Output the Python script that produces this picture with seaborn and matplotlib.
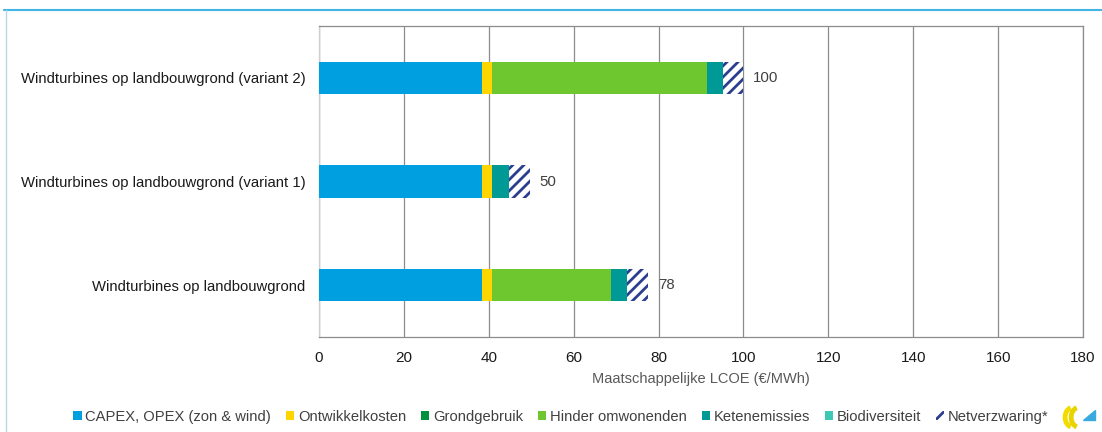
import numpy as np
import pandas as pd
import seaborn as sns
import matplotlib
matplotlib.use('Agg')
from matplotlib import pyplot as plt
from matplotlib.patches import Patch, Polygon, Arc
from matplotlib.lines import Line2D

# data (EUR/MWh)
categorieen = ['Windturbines op landbouwgrond (variant 2)',
               'Windturbines op landbouwgrond (variant 1)',
               'Windturbines op landbouwgrond']
capex_opex = [38.5, 38.5, 38.5]
ontwikkelkosten = [2.2, 2.2, 2.2]
grondgebruik = [0.0, 0.0, 0.0]
hinder = [50.6, 0.0, 28.1]
ketenemissies = [3.8, 4.1, 3.7]
biodiversiteit = [0.0, 0.0, 0.0]
netverzwaring = [4.9, 4.9, 5.1]
totaal_labels = ['100', '50', '78']

componenten = ['CAPEX, OPEX (zon & wind)', 'Ontwikkelkosten', 'Grondgebruik',
               'Hinder omwonenden', 'Ketenemissies', 'Biodiversiteit', 'Netverzwaring*']
kleuren = ['#009FDF', '#FFD500', '#00923F', '#6FC72F', '#009A96', '#3CC8B4', '#2B3E8F']

df = pd.DataFrame({
    'categorie': categorieen,
    componenten[0]: capex_opex,
    componenten[1]: ontwikkelkosten,
    componenten[2]: grondgebruik,
    componenten[3]: hinder,
    componenten[4]: ketenemissies,
    componenten[5]: biodiversiteit,
    componenten[6]: netverzwaring,
})
cum = df[componenten].cumsum(axis=1)

sns.set_style('white')
plt.rcParams['font.family'] = ['Liberation Sans', 'DejaVu Sans']
plt.rcParams['hatch.linewidth'] = 2.0

fig = plt.figure(figsize=(11.02, 4.32), dpi=100)
ax = fig.add_axes([0.2895, 0.2199, 0.6933, 0.7199])

# stacked bars: draw cumulative totals from the outermost layer inwards
for i in range(len(componenten) - 1, -1, -1):
    naam = componenten[i]
    if naam == 'Netverzwaring*':
        sns.barplot(x=cum[naam], y=df['categorie'], orient='h', width=0.31,
                    color='white', edgecolor=kleuren[i], hatch='///', linewidth=0,
                    ax=ax, zorder=3)
    else:
        sns.barplot(x=cum[naam], y=df['categorie'], orient='h', width=0.31,
                    color=kleuren[i], linewidth=0, saturation=1, ax=ax, zorder=3)

# totals
for j, lab in enumerate(totaal_labels):
    ax.text(cum[componenten[-1]].iloc[j] + 2.3, j, lab, va='center', ha='left',
            fontsize=10.8, color='#404040')

ax.set_xlim(0, 180)
ax.set_ylim(2.5, -0.5)
ax.set_xticks(np.arange(0, 181, 20))
ax.xaxis.grid(True, color='#8c8c8c', linewidth=0.9, zorder=0)
ax.set_axisbelow(True)
ax.tick_params(axis='x', length=0, pad=10, labelsize=11, labelcolor='#1a1a1a')
ax.tick_params(axis='y', length=0, pad=10, labelsize=10.7, labelcolor='#1a1a1a')
ax.set_ylabel('')
ax.set_xlabel('Maatschappelijke LCOE (€/MWh)', fontsize=10.5, color='#595959', labelpad=5)
for s in ['top', 'right', 'bottom']:
    ax.spines[s].set_visible(True)
    ax.spines[s].set_color('#8c8c8c')
    ax.spines[s].set_linewidth(0.9)
ax.spines['left'].set_color('#d0d0d0')
ax.spines['left'].set_linewidth(1.0)

# legend
handles = []
for naam, kl in zip(componenten, kleuren):
    if naam == 'Netverzwaring*':
        handles.append(Patch(facecolor='white', edgecolor=kl, hatch='///', linewidth=0, label=naam))
    else:
        handles.append(Patch(facecolor=kl, edgecolor='none', label=naam))
fig.legend(handles=handles, loc='center', bbox_to_anchor=(0.509, 0.035), ncol=7,
           frameon=False, fontsize=10.6, handlelength=0.55, handleheight=0.55,
           handletextpad=0.25, columnspacing=1.02, labelcolor='#404040')

# frame lines of the slide
fig.add_artist(Line2D([0.004, 1.0], [0.978, 0.978], color='#41B6E6', linewidth=1.5))
fig.add_artist(Line2D([0.005, 0.005], [0.0, 0.978], color='#b8d8e8', linewidth=1.0))

# small logo bottom right
fig.add_artist(Arc((0.9735, 0.034), 0.014, 0.046, theta1=95, theta2=265,
                   color='#F2DC00', linewidth=3.5, transform=fig.transFigure))
fig.add_artist(Arc((0.9790, 0.034), 0.014, 0.046, theta1=95, theta2=265,
                   color='#E8D400', linewidth=3.5, transform=fig.transFigure))
fig.add_artist(Polygon([[0.9830, 0.028], [0.9935, 0.028], [0.9935, 0.050]],
                       closed=True, color='#3AA9E0', transform=fig.transFigure))

plt.savefig('out.png', dpi=100)
